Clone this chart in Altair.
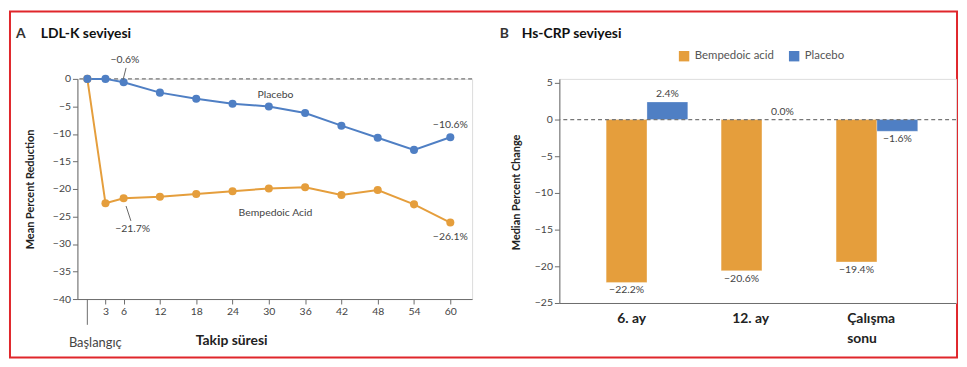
import altair as alt
import pandas as pd

# ---------------- data ----------------
months = [0, 3, 6, 12, 18, 24, 30, 36, 42, 48, 54, 60]
placebo_ldl = [0, 0, -0.6, -2.5, -3.6, -4.5, -5.0, -6.2, -8.5, -10.7, -12.9, -10.6]
bempedoic_ldl = [0, -22.6, -21.7, -21.4, -20.9, -20.4, -19.9, -19.7, -21.1, -20.2, -22.8, -26.1]
x_tick_values = [3, 6, 12, 18, 24, 30, 36, 42, 48, 54, 60]
y_tick_values_a = [0, -5, -10, -15, -20, -25, -30, -35, -40]
series_a = ["Placebo", "Bempedoic Acid"]

ann_text = ["−0.6%", "−21.7%", "−10.6%", "−26.1%"]
ann_x = [6.2, 7.5, 60, 60]
ann_y = [3.4, -27.2, -8.3, -28.8]
name_x = [31.1, 31.1]
name_y = [-2.9, -24.3]
leader_x = [6.4, 6.4]
leader_y = [2.0, -23.1]
leader_x2 = [5.9, 7.2]
leader_y2 = [-0.2, -25.8]
baseline_month = [0]
baseline_label = ["Başlangıç"]

crp_categories = ["6. ay", "12. ay", "Çalışma sonu"]
crp_groups = ["Bempedoic acid", "Placebo"]
crp_bempedoic = [-22.2, -20.6, -19.4]
crp_placebo = [2.4, 0.0, -1.6]
y_tick_values_b = [5, 0, -5, -10, -15, -20, -25]

title_a_letter, title_a = "A", "LDL-K seviyesi"
title_b_letter, title_b = "B", "Hs-CRP seviyesi"

BLUE = "#4f7fc4"
ORANGE = "#e59e3c"
FONT = "Lato"
GRAY = "#444444"
AXC = "#6b6b6b"

# ---------------- panel A ----------------
dfA = pd.DataFrame(
    {"x": months * 2,
     "y": bempedoic_ldl + placebo_ldl,
     "series": ["Bempedoic Acid"] * len(months) + ["Placebo"] * len(months)}
)
xA = alt.X("x:Q", scale=alt.Scale(domain=[-1.64, 63.6], nice=False, zero=False),
           axis=alt.Axis(values=x_tick_values, tickCount=30, title="Takip süresi", grid=False, labelOverlap=False,
                         labelFontSize=10.5, labelColor=GRAY, labelFont=FONT, labelPadding=3,
                         tickSize=5, tickColor=AXC, domainColor=AXC,
                         titleFont=FONT, titleFontSize=14, titleFontWeight="bold", titleColor="#222",
                         titleX=155, titleY=42, titleBaseline="middle"))
yA = alt.Y("y:Q", scale=alt.Scale(domain=[-40, 0], nice=False),
           axis=alt.Axis(values=y_tick_values_a, tickCount=30, title="Mean Percent Reduction", grid=False,
                         labelOverlap=False,
                         labelFontSize=10.5, labelColor=GRAY, labelFont=FONT, labelPadding=2,
                         tickSize=5, tickColor=AXC, domainColor=AXC,
                         titleFont=FONT, titleFontSize=11, titleFontWeight="bold", titleColor="#222",
                         titleX=-47, titleY=111, titleBaseline="middle"))
colA = alt.Color("series:N", scale=alt.Scale(domain=series_a, range=[BLUE, ORANGE]), legend=None)

zeroA = alt.Chart(pd.DataFrame({"y": [0]})).mark_rule(
    color="#777", strokeDash=[4, 3], strokeWidth=1.2).encode(y="y:Q")
lineA = alt.Chart(dfA).mark_line(strokeWidth=2).encode(x=xA, y=yA, color=colA)
ptsA = alt.Chart(dfA).mark_circle(size=66, opacity=1).encode(x="x:Q", y="y:Q", color=colA)

annA = alt.Chart(pd.DataFrame({"x": ann_x, "y": ann_y, "t": ann_text})).mark_text(
    font=FONT, fontSize=10.5, color=GRAY).encode(x="x:Q", y="y:Q", text="t:N")
namesA = alt.Chart(pd.DataFrame({"x": name_x, "y": name_y, "t": series_a})).mark_text(
    font=FONT, fontSize=10.5, color=GRAY).encode(x="x:Q", y="y:Q", text="t:N")
leadA = alt.Chart(pd.DataFrame({"x": leader_x, "y": leader_y, "x2": leader_x2, "y2": leader_y2})).mark_rule(
    color="#666", strokeWidth=1).encode(x="x:Q", y="y:Q", x2="x2:Q", y2="y2:Q")
baseRule = alt.Chart(pd.DataFrame({"x": baseline_month})).mark_rule(color=AXC, strokeWidth=1).encode(
    x="x:Q", y=alt.value(222), y2=alt.value(248))
baseText = alt.Chart(pd.DataFrame({"x": baseline_month, "t": baseline_label})).mark_text(
    font=FONT, fontSize=13, color=GRAY, dx=8, baseline="middle").encode(x="x:Q", y=alt.value(266), text="t:N")

tA1 = alt.Chart(pd.DataFrame({"t": [title_a_letter]})).mark_text(
    font=FONT, fontSize=14, fontWeight="bold", color="#333", align="left", baseline="middle").encode(
    x=alt.value(-62), y=alt.value(-45), text="t:N")
tA2 = alt.Chart(pd.DataFrame({"t": [title_a]})).mark_text(
    font=FONT, fontSize=14, fontWeight="bold", color="#111", align="left", baseline="middle").encode(
    x=alt.value(-37), y=alt.value(-45), text="t:N")
border = alt.Chart(pd.DataFrame({"t": ["b"]})).mark_rect(
    fill="transparent", stroke="#e0262b", strokeWidth=2).encode(
    x=alt.value(-68), x2=alt.value(887), y=alt.value(-68), y2=alt.value(281))

panelA = alt.layer(zeroA, lineA, ptsA, leadA, annA, namesA, baseRule, baseText, tA1, tA2, border).properties(
    width=398, height=222)

# ---------------- panel B ----------------
dfB = pd.DataFrame(
    {"cat": crp_categories * 2,
     "grp": ["Bempedoic acid"] * 3 + ["Placebo"] * 3,
     "v": crp_bempedoic + crp_placebo}
)
dfB["lbl"] = [("−" if v < 0 else "") + f"{abs(v):.1f}%" for v in dfB["v"]]

xB = alt.X("cat:N", sort=crp_categories,
           scale=alt.Scale(paddingInner=0.29, paddingOuter=0.37, align=0.55),
           axis=alt.Axis(title=None, ticks=False, labelAngle=0, domainColor=AXC,
                         labelFont=FONT, labelFontSize=14, labelFontWeight="bold", labelColor="#222",
                         labelAlign="left", labelOffset=-30, labelPadding=9, labelBaseline="top",
                         labelLineHeight=20,
                         labelExpr="datum.label == 'Çalışma sonu' ? ['Çalışma', 'sonu'] : datum.label"))
xB_plain = alt.X("cat:N", sort=crp_categories)
xoB = alt.XOffset("grp:N", sort=crp_groups, scale=alt.Scale(domain=crp_groups))
yB = alt.Y("v:Q", scale=alt.Scale(domain=[-25, 5.54], nice=False, zero=False),
           axis=alt.Axis(values=y_tick_values_b, tickCount=30, title="Median Percent Change", grid=False,
                         labelOverlap=False,
                         labelFontSize=10.5, labelColor=GRAY, labelFont=FONT, labelPadding=2,
                         tickSize=5, tickColor=AXC, domainColor=AXC,
                         titleFont=FONT, titleFontSize=11, titleFontWeight="bold", titleColor="#222",
                         titleX=-43, titleY=114, titleBaseline="middle"))
colB = alt.Color("grp:N", scale=alt.Scale(domain=crp_groups, range=[ORANGE, BLUE]),
                 legend=alt.Legend(orient="none", legendX=120, legendY=-29, direction="horizontal",
                                   title=None, symbolType="square", symbolSize=110, symbolStrokeWidth=0,
                                   labelFont=FONT, labelFontSize=11.5, labelColor="#555",
                                   columnPadding=14, labelOffset=5))

barsB = alt.Chart(dfB).mark_bar(stroke="white", strokeWidth=0.6, strokeOpacity=0.5).encode(
    x=xB, xOffset=xoB, y=yB, color=colB)
zeroB = alt.Chart(pd.DataFrame({"v": [0]})).mark_rule(
    color="#777", strokeDash=[4, 3], strokeWidth=1.2).encode(y="v:Q")
posB = alt.Chart(dfB).transform_filter("datum.v >= 0").mark_text(
    font=FONT, fontSize=10.5, color=GRAY, baseline="bottom", dy=-3).encode(
    x=xB_plain, xOffset=xoB, y="v:Q", text="lbl:N")
negB = alt.Chart(dfB).transform_filter("datum.v < 0").mark_text(
    font=FONT, fontSize=10.5, color=GRAY, baseline="top", dy=3).encode(
    x=xB_plain, xOffset=xoB, y="v:Q", text="lbl:N")
tB1 = alt.Chart(pd.DataFrame({"t": [title_b_letter]})).mark_text(
    font=FONT, fontSize=14, fontWeight="bold", color="#333", align="left", baseline="middle").encode(
    x=alt.value(-60), y=alt.value(-45), text="t:N")
tB2 = alt.Chart(pd.DataFrame({"t": [title_b]})).mark_text(
    font=FONT, fontSize=14, fontWeight="bold", color="#111", align="left", baseline="middle").encode(
    x=alt.value(-38), y=alt.value(-45), text="t:N")

panelB = alt.layer(barsB, zeroB, posB, negB, tB1, tB2).properties(width=400, height=226)

chart = alt.hconcat(panelA, panelB, spacing=88, bounds="flush").resolve_scale(
    x="independent", y="independent", color="independent").properties(
    padding=0, background="white").configure_view(stroke=None).configure(font=FONT)

chart.save("out.html", embed_options={"renderer": "svg", "actions": False})
